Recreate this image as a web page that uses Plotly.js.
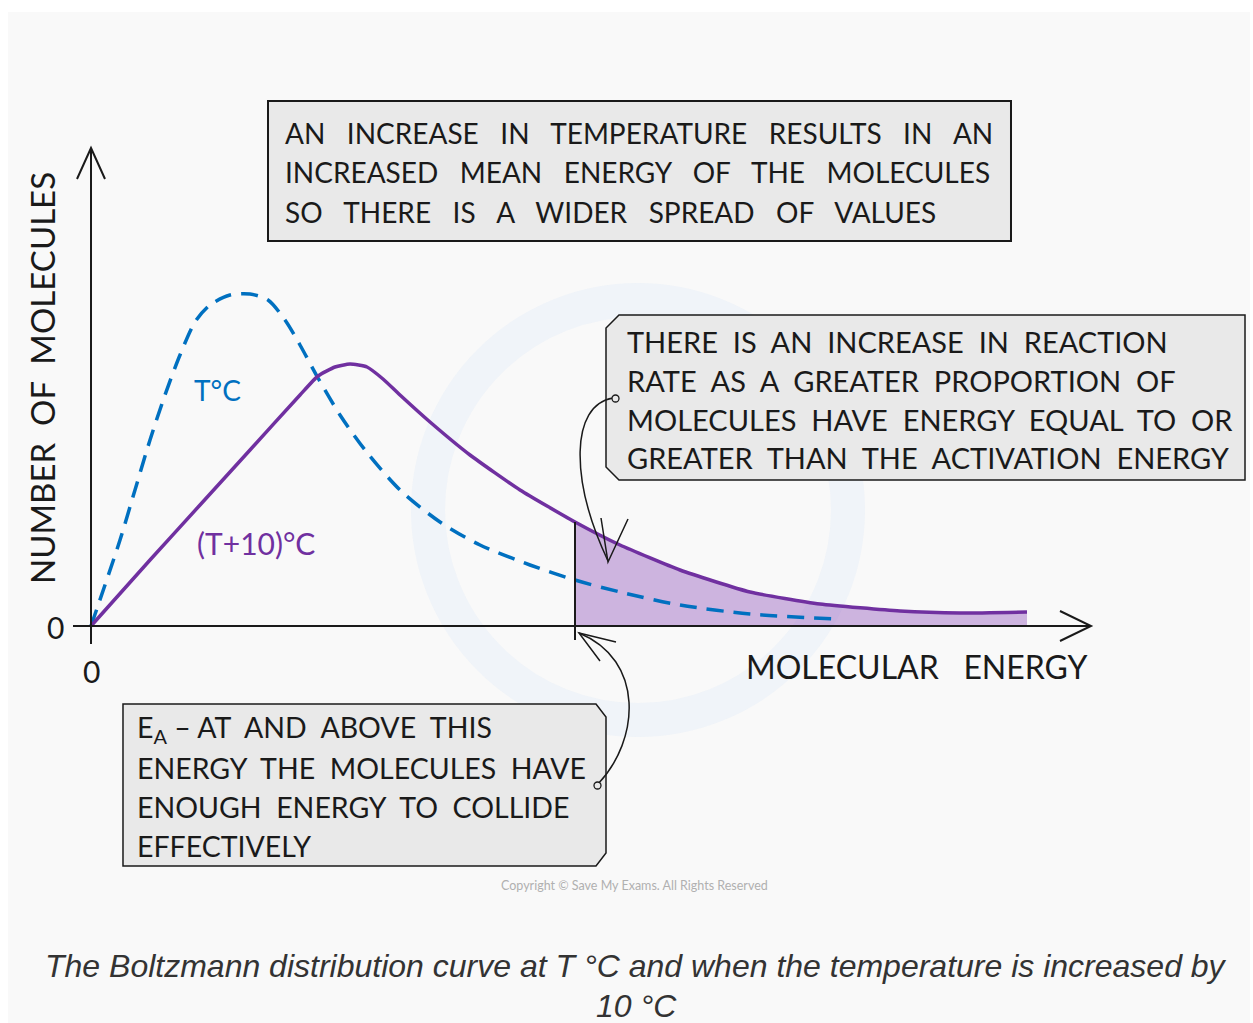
<!DOCTYPE html>
<html>
<head>
<meta charset="utf-8">
<script src="https://cdn.plot.ly/plotly-3.0.1.min.js"></script>
<style>html,body{margin:0;padding:0;background:#fff;}#chart{width:1253px;height:1023px;}</style>
</head>
<body>
<div id="chart"></div>
<script>
// ---- data (arbitrary units) ----
const energyT   = [0, 0.14, 0.29, 0.44, 0.59, 0.74, 0.89, 1.04, 1.19, 1.39, 1.59, 1.77, 1.94, 2.09, 2.27, 2.49, 2.74, 3.09, 3.49, 3.89, 4.39, 4.84, 5.29, 5.89, 6.59, 7.44];
const countT    = [0, 0.41, 0.86, 1.36, 1.86, 2.31, 2.71, 3.04, 3.21, 3.31, 3.32, 3.26, 3.06, 2.81, 2.48, 2.11, 1.76, 1.36, 1.04, 0.81, 0.61, 0.46, 0.34, 0.21, 0.12, 0.07];
const energyT10 = [0, 0.59, 1.09, 1.59, 2.09, 2.27, 2.44, 2.59, 2.76, 2.92, 3.09, 3.39, 3.79, 4.29, 4.84, 5.29, 5.89, 6.59, 7.29, 8.09, 8.69, 9.36];
const countT10  = [0, 0.66, 1.21, 1.76, 2.31, 2.50, 2.59, 2.62, 2.59, 2.47, 2.31, 2.04, 1.71, 1.36, 1.04, 0.81, 0.56, 0.34, 0.22, 0.15, 0.13, 0.14];
const activationEnergy = 4.84;
const seriesLabels = ['T°C', '(T+10)°C'];
const axisLabels = {x: 'MOLECULAR   ENERGY', y: 'NUMBER  OF  MOLECULES'};
const box1Lines = ['AN  INCREASE  IN  TEMPERATURE  RESULTS  IN  AN', 'INCREASED  MEAN  ENERGY  OF  THE  MOLECULES', 'SO  THERE  IS  A  WIDER  SPREAD  OF  VALUES'];
const box2Lines = ['THERE  IS  AN  INCREASE  IN  REACTION', 'RATE  AS  A  GREATER  PROPORTION  OF', 'MOLECULES  HAVE  ENERGY  EQUAL  TO  OR', 'GREATER  THAN  THE  ACTIVATION  ENERGY'];
const box3Lines = ['E<sub>A</sub> – AT  AND  ABOVE  THIS', 'ENERGY  THE  MOLECULES  HAVE', 'ENOUGH  ENERGY  TO  COLLIDE', 'EFFECTIVELY'];
const captionLines = ['The Boltzmann distribution curve at T °C and when the temperature is increased by', '10 °C'];

// ---- helpers ----
const W = 1253, H = 1023;
const px = x => x / W;
const py = y => 1 - y / H;
// widen word gaps: a run of k spaces becomes round(k*n) spaces (non-breaking)
const sp = (s, n) => s.replace(/ +/g, m => ' ' + '\u00A0'.repeat(Math.max(0, Math.round(m.length * n) - 1)));
function pathP(pts, close) {
  return pts.map((p, i) => (i ? 'L' : 'M') + px(p[0]).toFixed(5) + ',' + py(p[1]).toFixed(5)).join(' ') + (close ? ' Z' : '');
}
function bez(p0, c1, c2, p1) {
  const f = p => px(p[0]).toFixed(5) + ',' + py(p[1]).toFixed(5);
  return 'M' + f(p0) + ' C' + f(c1) + ' ' + f(c2) + ' ' + f(p1);
}
const blue = '#0070c0', purple = '#7030a0', ink = '#1a1a1a';
const handFont = 'Lato, "Noto Sans", sans-serif';

// shaded region beyond Ea
const shadeX = [], shadeY = [];
energyT10.forEach((e, i) => { if (e >= activationEnergy) { shadeX.push(e); shadeY.push(countT10[i]); } });

const traces = [
  {x: shadeX, y: shadeY, type: 'scatter', mode: 'lines', line: {width: 0, shape: 'spline'}, fill: 'tozeroy', fillcolor: 'rgba(150,95,190,0.45)', hoverinfo: 'skip', showlegend: false},
  {x: energyT, y: countT, type: 'scatter', mode: 'lines', name: seriesLabels[0], line: {color: blue, width: 3.5, dash: '17px,10px', shape: 'spline', smoothing: 0.8}, showlegend: false},
  {x: energyT10, y: countT10, type: 'scatter', mode: 'lines', name: seriesLabels[1], line: {color: purple, width: 3.5, shape: 'spline', smoothing: 0.5}, showlegend: false},
  {x: [activationEnergy, activationEnergy], y: [shadeY[0], -0.14], type: 'scatter', mode: 'lines', line: {color: ink, width: 2}, hoverinfo: 'skip', showlegend: false}
];

const shapes = [
  // background panel
  {type: 'rect', xref: 'paper', yref: 'paper', x0: px(8), x1: px(1250), y0: py(12), y1: py(1023), fillcolor: '#f9f9f9', line: {width: 0}, layer: 'below'},
  // faint watermark
  {type: 'circle', xref: 'paper', yref: 'paper', x0: px(428), x1: px(848), y0: py(300), y1: py(720), line: {color: 'rgba(228,238,248,0.45)', width: 34}, layer: 'below'},
  // axes
  {type: 'path', xref: 'paper', yref: 'paper', path: pathP([[91, 644], [91, 148]]), line: {color: ink, width: 2}},
  {type: 'path', xref: 'paper', yref: 'paper', path: pathP([[77, 179], [91, 148], [105, 179]]), line: {color: ink, width: 2}},
  {type: 'path', xref: 'paper', yref: 'paper', path: pathP([[73, 626], [1090, 626]]), line: {color: ink, width: 2}},
  {type: 'path', xref: 'paper', yref: 'paper', path: pathP([[1060, 611], [1091, 626], [1060, 641]]), line: {color: ink, width: 2}},
  // boxes
  {type: 'path', xref: 'paper', yref: 'paper', path: pathP([[268, 101], [1011, 101], [1011, 241], [268, 241]], true), fillcolor: '#e9e9e9', line: {color: ink, width: 2}},
  {type: 'path', xref: 'paper', yref: 'paper', path: pathP([[619, 315], [1245, 315], [1245, 480], [619, 480], [606, 467], [606, 328]], true), fillcolor: '#e9e9e9', line: {color: ink, width: 1.5}},
  {type: 'path', xref: 'paper', yref: 'paper', path: pathP([[123, 704], [596, 704], [606, 717], [606, 853], [596, 866], [123, 866]], true), fillcolor: '#e9e9e9', line: {color: ink, width: 1.5}},
  // curved arrow: box 2 -> shaded area
  {type: 'path', xref: 'paper', yref: 'paper', path: bez([613, 398], [570, 405], [570, 480], [608, 561]), line: {color: ink, width: 1.5}},
  {type: 'path', xref: 'paper', yref: 'paper', path: pathP([[601, 518], [608, 562], [628, 519]]), line: {color: ink, width: 1.5}},
  {type: 'circle', xref: 'paper', yref: 'paper', x0: px(612), x1: px(619), y0: py(395), y1: py(402), line: {color: ink, width: 1.3}, fillcolor: '#e9e9e9'},
  // curved arrow: box 3 -> Ea
  {type: 'path', xref: 'paper', yref: 'paper', path: bez([598, 784], [640, 740], [645, 660], [579, 633]), line: {color: ink, width: 1.5}},
  {type: 'path', xref: 'paper', yref: 'paper', path: pathP([[600, 661], [579, 633], [616, 642]]), line: {color: ink, width: 1.5}},
  {type: 'circle', xref: 'paper', yref: 'paper', x0: px(594), x1: px(601), y0: py(782), y1: py(789), line: {color: ink, width: 1.3}, fillcolor: '#e9e9e9'}
];

const ann = [];
function txt(t, x, y, size, opts) {
  ann.push(Object.assign({text: t, xref: 'paper', yref: 'paper', x: px(x), y: py(y), xanchor: 'left', yanchor: 'middle', showarrow: false, font: {family: handFont, size: size, color: ink}}, opts || {}));
}
box1Lines.forEach((l, i) => txt(sp(l, 1.5), 283, 133 + i * 39.5, 28));
box2Lines.forEach((l, i) => txt(sp(l, 1), 625, 342 + i * 38.5, 29));
box3Lines.forEach((l, i) => txt(sp(l, 1), 135, 729 + i * 39, 28.5));
txt(sp(axisLabels.x, 1), 917, 666, 32, {xanchor: 'center'});
txt(sp(axisLabels.y, 1), 42, 378, 33, {xanchor: 'center', textangle: -90});
txt('0', 55, 627, 30, {xanchor: 'center'});
txt('0', 91, 671, 30, {xanchor: 'center'});
txt(seriesLabels[0], 217, 390, 28, {xanchor: 'center', font: {family: handFont, size: 28, color: blue}});
txt(seriesLabels[1], 256, 543, 30, {xanchor: 'center', font: {family: handFont, size: 30, color: purple}});
txt('Copyright © Save My Exams. All Rights Reserved', 634, 885, 12.5, {xanchor: 'center', font: {family: handFont, size: 12.5, color: '#b0b0b0'}});
captionLines.forEach((l, i) => txt(l, 636, 966 + i * 40, 32, {xanchor: 'center', font: {family: '"Liberation Sans", Arial, sans-serif', size: 32, color: '#333333', style: 'italic'}}));

const layout = {
  width: W, height: H,
  margin: {l: 0, r: 0, t: 0, b: 0, pad: 0},
  paper_bgcolor: '#ffffff', plot_bgcolor: 'rgba(0,0,0,0)',
  xaxis: {range: [-0.91, 11.62], visible: false, fixedrange: true},
  yaxis: {range: [-3.97, 6.26], visible: false, fixedrange: true},
  shapes: shapes, annotations: ann, showlegend: false
};
Plotly.newPlot('chart', traces, layout, {staticPlot: true, displayModeBar: false});
</script>
</body>
</html>
